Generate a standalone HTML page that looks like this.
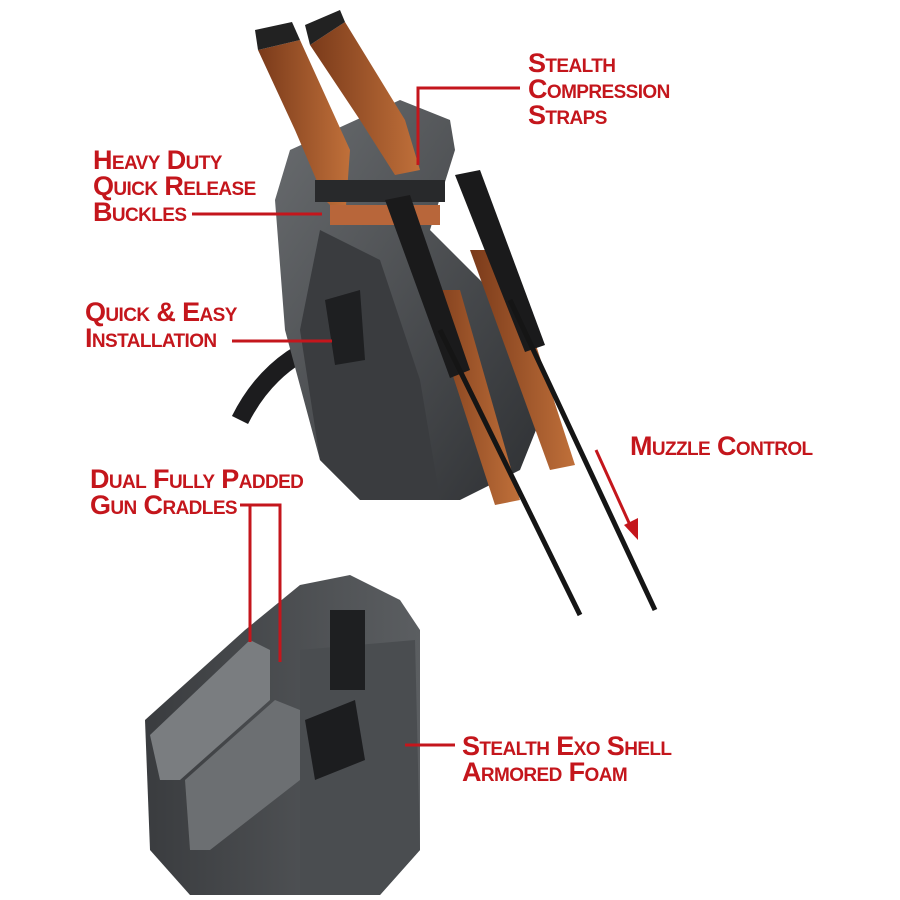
<!DOCTYPE html>
<html><head><meta charset="utf-8">
<style>
body{margin:0;background:#fff;width:900px;height:900px;overflow:hidden;position:relative;font-family:"Liberation Sans Narrow","Liberation Sans",sans-serif}
.l{position:absolute;color:#c4161c;font-weight:bold;font-size:27px;line-height:26px;font-variant:small-caps;letter-spacing:-0.6px;white-space:nowrap}
svg{position:absolute;left:0;top:0}
</style></head><body>
<svg width="900" height="900" viewBox="0 0 900 900">
<defs>
<linearGradient id="g1" x1="0" y1="0" x2="1" y2="1"><stop offset="0" stop-color="#6a6d70"/><stop offset="1" stop-color="#2e3033"/></linearGradient>
<linearGradient id="g2" x1="0" y1="0" x2="1" y2="0"><stop offset="0" stop-color="#3a3c3f"/><stop offset="1" stop-color="#5b5e61"/></linearGradient>
<linearGradient id="wd" x1="0" y1="0" x2="1" y2="0"><stop offset="0" stop-color="#7a3a1a"/><stop offset="1" stop-color="#c0703a"/></linearGradient>
</defs>
<path d="M330 340 Q270 360 240 420" stroke="#1c1c1e" stroke-width="18" fill="none"/>
<polygon points="290,150 400,100 450,120 455,150 430,230 500,300 540,420 520,470 460,500 360,500 320,460 285,330 275,200" fill="url(#g1)"/>
<polygon points="320,230 380,260 420,380 440,500 360,500 320,460 300,330" fill="#3a3c3f"/>
<polygon points="325,300 360,290 365,360 335,365" fill="#1e1f21"/>
<polygon points="258,50 300,40 350,150 345,220 325,200 295,130" fill="url(#wd)"/>
<polygon points="310,45 345,22 405,120 420,170 395,175 360,120" fill="url(#wd)"/>
<polygon points="258,50 300,40 292,22 255,30" fill="#222"/>
<polygon points="310,45 345,22 340,10 305,25" fill="#222"/>
<polygon points="425,290 460,290 520,500 495,505" fill="url(#wd)"/>
<polygon points="470,250 505,250 575,465 550,470" fill="url(#wd)"/>
<rect x="315" y="180" width="130" height="22" fill="#28292b"/>
<rect x="330" y="205" width="110" height="20" fill="#b8663a"/>
<polygon points="385,200 410,195 470,370 450,378" fill="#1a1a1b"/>
<polygon points="455,175 480,170 545,345 525,352" fill="#1a1a1b"/>
<line x1="440" y1="330" x2="580" y2="615" stroke="#151515" stroke-width="5"/>
<line x1="510" y1="300" x2="655" y2="610" stroke="#151515" stroke-width="5"/>
<polygon points="145,720 245,630 300,585 350,575 400,600 420,630 420,850 380,895 190,895 150,850" fill="url(#g2)"/>
<polygon points="150,735 250,640 270,650 270,700 180,780 160,780" fill="#7a7d80"/>
<polygon points="185,780 275,700 300,710 300,780 210,850 190,850" fill="#6c6f72"/>
<polygon points="300,650 415,640 420,850 380,895 300,895" fill="#4a4d50"/>
<polygon points="305,720 355,700 365,760 315,780" fill="#1c1d1f"/>
<rect x="330" y="610" width="35" height="80" fill="#1e1f21"/>
<g stroke="#c4161c" stroke-width="3" fill="none">
<polyline points="520,88 418,88 418,165"/>
<line x1="192" y1="214" x2="322" y2="214"/>
<line x1="232" y1="341" x2="332" y2="341"/>
<line x1="596" y1="450" x2="630" y2="525"/>
<polyline points="240,505 280,505 280,662"/>
<line x1="250" y1="505" x2="250" y2="642"/>
<line x1="405" y1="745" x2="455" y2="745"/>
</g>
<polygon points="624,525 638,540 638,518" fill="#c4161c"/>
</svg>
<div class="l" style="left:528px;top:50px">Stealth<br>Compression<br>Straps</div>
<div class="l" style="left:93px;top:147px">Heavy Duty<br>Quick Release<br>Buckles</div>
<div class="l" style="left:85px;top:299px">Quick &amp; Easy<br>Installation</div>
<div class="l" style="left:630px;top:433px">Muzzle Control</div>
<div class="l" style="left:90px;top:466px">Dual Fully Padded<br>Gun Cradles</div>
<div class="l" style="left:462px;top:733px">Stealth Exo Shell<br>Armored Foam</div>
</body></html>
